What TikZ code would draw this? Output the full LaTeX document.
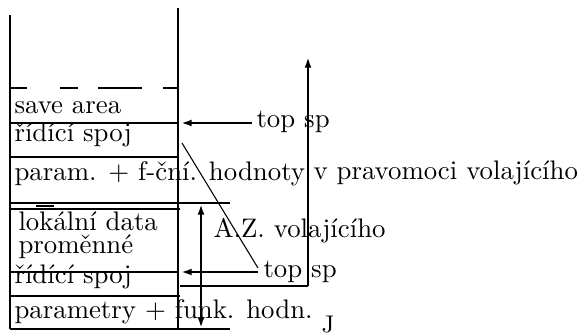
\documentclass[tikz,border=0pt]{standalone}
\usepackage{fontspec}
\usetikzlibrary{arrows.meta}
\begin{document}
\begin{tikzpicture}[x=0.373pt,y=-0.373pt,
  wall/.style={line width=0.8pt},
  heavy/.style={line width=1.1pt},
  diag/.style={line width=0.4pt},
  lbl/.style={anchor=base west, inner sep=0pt, font=\normalsize},
  tip/.style={-{Latex[length=4pt,width=2.6pt]}},
  dtip/.style={{Latex[length=4pt,width=2.6pt]}-{Latex[length=4pt,width=2.6pt]}}]
\useasboundingbox (0,0) rectangle (578,335);
% stack walls
\coordinate (lt) at (10,15);  \coordinate (lb) at (10,329);
\coordinate (rt) at (178,8);  \coordinate (rb) at (178,329);
\draw[wall] (lt) -- (lb);
\draw[wall] (rt) -- (rb);
% dashed top
\draw[wall] (10,88) -- (27,88) (60,88) -- (78,88) (98,88) -- (142,88) (163,88) -- (178,88);
% dividers
\draw[wall] (10,123) -- (178,123);
\draw[heavy] (10,157) -- (178,157);
\draw[wall] (10,203) -- (230,203);
\draw[wall] (10,209) -- (180,209);
\draw[line width=1.1pt] (36,206) -- (54,206);
\draw[wall] (10,272) -- (178,272);
\draw[wall] (10,296) -- (180,296);
\draw[wall] (10,329) -- (230,329);
% labels
\node[lbl] (save) at (14,113) {save area};
\node[lbl] (rs1) at (14,141) {řídící spoj};
\node[lbl] (par) at (14,180) {param. + f-ční. hodnoty};
\node[lbl] (lok) at (18,230) {lokální data};
\node[lbl] (prom) at (18,253) {proměnné};
\node[lbl] (rs2) at (14,283) {řídící spoj};
\node[lbl] (parf) at (14,318) {parametry + funk. hodn.};
\node[lbl] (tsp1) at (256,127) {top sp};
\node[lbl] (vpr) at (313,179) {v pravomoci volajícího};
\node[lbl] (az) at (213,237) {A.Z. volajícího};
\node[lbl] (tsp2) at (263,277) {top sp};
\node[lbl,font=\small] (jj) at (321,332) {J};
% arrows
\coordinate (a1) at (181,123);
\draw[wall,tip] (tsp1.west |- a1) ++(-4,0) -- (a1);
\coordinate (a2) at (181,272);
\draw[wall,tip] (258,272) -- (a2);
\coordinate (d1) at (182,143); \coordinate (d2) at (258,268);
\draw[diag] (d1) -- (d2);
\coordinate (lc) at (180,286); \coordinate (lk) at (308,286); \coordinate (lu) at (308,57);
\draw[wall] (lc) -- (lk);
\draw[wall,tip] (lk) -- (lu);
\coordinate (z1) at (201,204); \coordinate (z2) at (201,328);
\draw[heavy,dtip] (z1) -- (z2);
\end{tikzpicture}
\end{document}
